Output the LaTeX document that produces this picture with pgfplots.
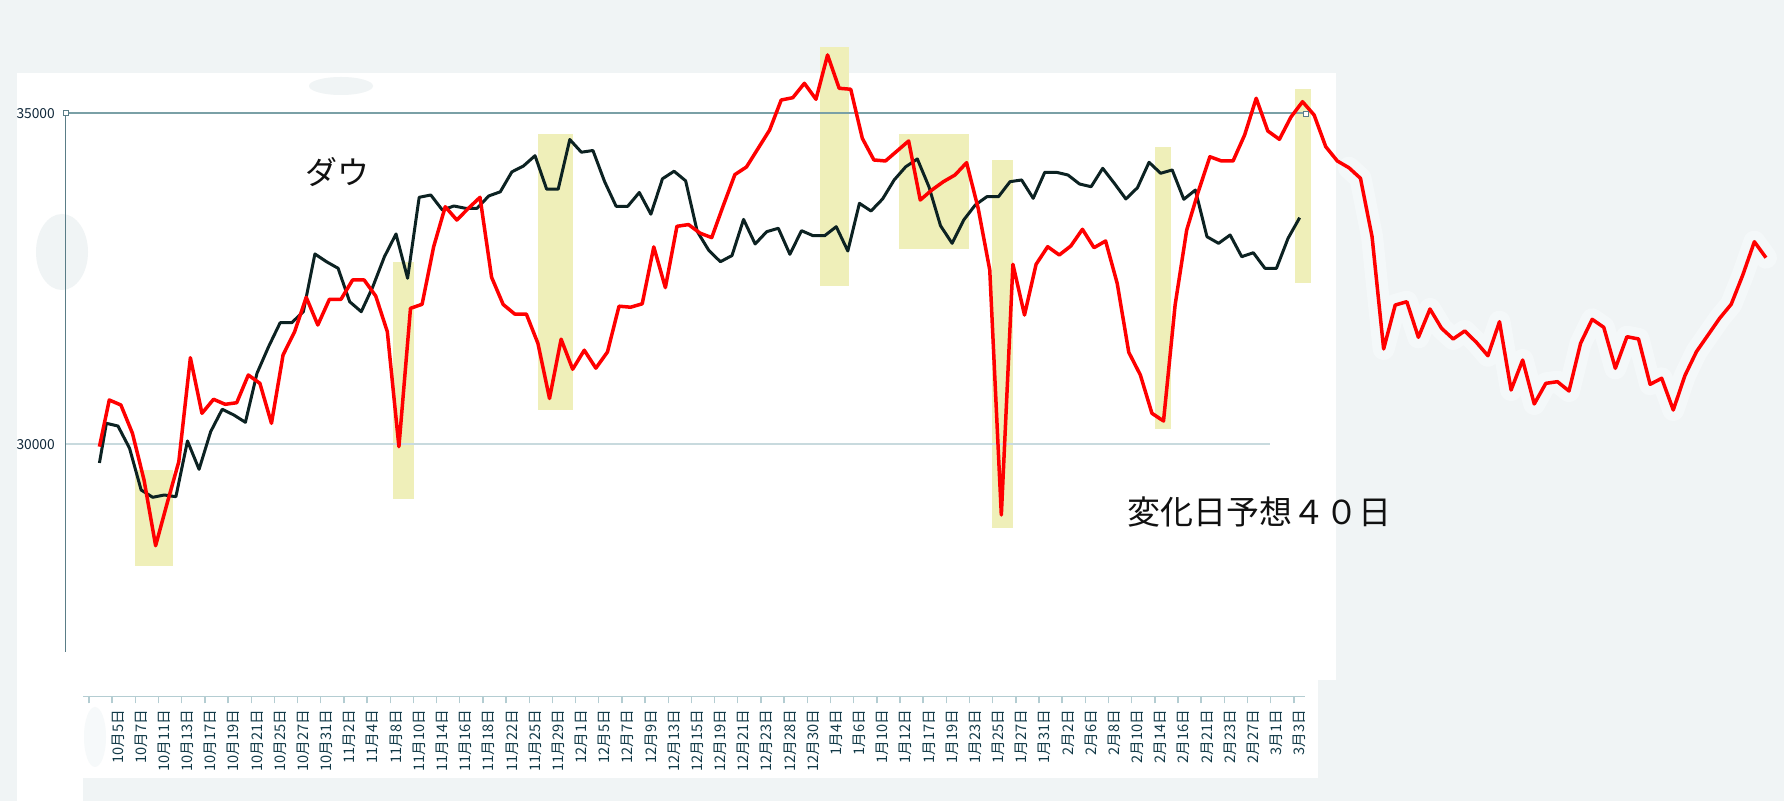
\documentclass[border=0pt]{standalone}
\usepackage{pgfplots}
\pgfplotsset{compat=1.18}
\usepackage{pgfplotstable}
\usepackage{fontspec}
\setmainfont{Noto Sans CJK JP}
\newfontfamily\jp{Noto Sans CJK JP}

\definecolor{bggray}{RGB}{240,244,245}
\definecolor{smudge}{RGB}{246,249,250}
\definecolor{dowcol}{RGB}{12,34,34}
\definecolor{predred}{RGB}{255,0,0}
\definecolor{hl}{RGB}{239,239,185}
\definecolor{gridA}{RGB}{122,160,166}
\definecolor{gridB}{RGB}{200,218,222}
\definecolor{xaxcol}{RGB}{180,205,210}
\definecolor{yaxcol}{RGB}{90,125,135}
\definecolor{labcol}{RGB}{18,58,72}
\definecolor{ylabcol}{RGB}{16,40,58}

\pgfplotstableread{
i v
0.4 29718
1 30317
2 30276
3 29940
4 29310
5 29199
6 29234
7 29208
8 30050
9 29622
10 30190
11 30529
12 30443
13 30332
14 31073
15 31474
16 31837
17 31837
18 32003
19 32875
20 32758
21 32659
22 32154
23 32003
24 32381
25 32834
26 33177
27 32508
28 33731
29 33766
30 33539
31 33600
32 33565
33 33565
34 33751
35 33814
36 34115
37 34204
38 34360
39 33855
40 33855
41 34604
42 34412
43 34438
44 33970
45 33595
46 33595
47 33804
48 33476
49 34011
50 34125
51 33980
52 33216
53 32929
54 32758
55 32851
56 33397
57 33026
58 33212
59 33263
60 32870
61 33227
62 33151
63 33151
64 33287
65 32920
66 33640
67 33524
68 33706
69 33993
70 34193
71 34310
72 33891
73 33302
74 33036
75 33388
76 33615
77 33740
78 33740
79 33967
80 33993
81 33716
82 34109
83 34109
84 34068
85 33932
86 33891
87 34169
88 33943
89 33706
90 33876
91 34260
92 34094
93 34144
94 33701
95 33841
96 33136
97 33036
98 33162
99 32834
100 32894
101 32659
102 32659
103 33112
104 33423
}\dowtable

\pgfplotstableread{
x v
0.4 29964
1.25 30669
2.25 30594
3.25 30166
4.25 29461
5.25 28468
6.25 29113
7.25 29737
8.25 31308
9.25 30468
10.25 30680
11.25 30604
12.25 30628
13.25 31047
14.25 30921
15.25 30317
16.25 31349
17.25 31701
18.25 32221
19.25 31802
20.25 32190
21.25 32190
22.25 32482
23.25 32482
24.25 32240
25.25 31701
26.25 29964
27.25 32054
28.25 32115
29.25 32985
30.25 33589
31.25 33388
32.25 33565
33.25 33731
34.25 32523
35.25 32112
36.25 31967
37.25 31967
38.25 31524
39.25 30692
40.25 31588
41.25 31134
42.25 31421
43.25 31150
44.25 31394
45.25 32086
46.25 32071
47.25 32122
48.25 32982
49.25 32367
50.25 33293
51.25 33319
52.25 33189
53.25 33122
54.25 33606
55.25 34074
56.25 34189
57.25 34468
58.25 34748
59.25 35201
60.25 35236
61.25 35453
62.25 35212
63.25 35881
64.25 35378
65.25 35363
66.25 34622
67.25 34295
68.25 34280
69.25 34431
70.25 34582
71.25 33690
72.25 33841
73.25 33967
74.25 34068
75.25 34254
76.25 33565
77.25 32633
78.25 28932
79.25 32719
80.25 31953
81.25 32719
82.25 32985
83.25 32860
84.25 32996
85.25 33248
86.25 32970
87.25 33071
88.25 32432
89.25 31390
90.25 31047
91.25 30468
92.25 30352
93.25 32104
94.25 33237
95.25 33816
96.25 34344
97.25 34280
98.25 34280
99.25 34672
100.25 35227
101.25 34733
102.25 34607
103.25 34944
104.25 35175
105.25 34974
106.25 34496
107.25 34280
108.25 34178
109.25 34018
110.25 33136
111.25 31440
112.25 32104
113.25 32154
114.25 31616
115.25 32044
116.25 31752
117.25 31591
118.25 31712
119.25 31541
120.25 31338
121.25 31852
122.25 30820
123.25 31273
124.25 30609
125.25 30921
126.25 30946
127.25 30805
128.25 31526
129.25 31888
130.25 31767
131.25 31148
132.25 31625
133.25 31591
134.25 30906
135.25 30997
136.25 30518
137.25 31036
138.25 31399
139.25 31651
140.25 31903
141.25 32115
142.25 32557
143.25 33060
144.25 32819
}\predtable

\begin{document}
\begin{tikzpicture}
\begin{scope}[x=0.5pt,y=-0.5pt]
  \fill[bggray] (0,0) rectangle (1784,801);
  \fill[white] (17,72.7) rectangle (1336,680);
  \fill[white] (17,680) rectangle (83,801);
  \fill[white] (83,680) rectangle (1318,778);
  \fill[bggray] (341,86) ellipse (16pt and 4.5pt);
  \fill[bggray] (62,252) ellipse (13pt and 19pt);
  \fill[smudge] (95,737) ellipse (5.5pt and 15pt);
\end{scope}

\begin{axis}[
  at={(32.85pt,-348.35pt)}, anchor=south west,
  scale only axis, width=635.15pt, height=291.7pt,
  xmin=-2.5119, xmax=107.138, ymin=26187.2, ymax=35000,
  clip=false,
  axis lines=left,
  axis line style={draw=none},
  scaled y ticks=false,
  scaled x ticks=false,
  tick align=outside,
  major tick length=0pt,
  tick style={color=xaxcol, line width=0.7pt},
  xtick={2,4,...,104},
  xticklabels={10月5日,10月7日,10月11日,10月13日,10月17日,10月19日,10月21日,10月25日,10月27日,10月31日,11月2日,11月4日,11月8日,11月10日,11月14日,11月16日,11月18日,11月22日,11月25日,11月29日,12月1日,12月5日,12月7日,12月9日,12月13日,12月15日,12月19日,12月21日,12月23日,12月28日,12月30日,1月4日,1月6日,1月10日,1月12日,1月17日,1月19日,1月23日,1月25日,1月27日,1月31日,2月2日,2月6日,2月8日,2月10日,2月14日,2月16日,2月21日,2月23日,2月27日,3月1日,3月3日},
  extra x ticks={-0.5,1.5,...,103.5},
  extra x tick labels={},
  extra x tick style={major tick length=3.35pt},
  xticklabel style={rotate=90, anchor=east, inner sep=0pt, font=\jp\fontsize{7.3pt}{8pt}\selectfont, text=labcol},
  xticklabel shift=6.4pt,
  ytick={30000,35000},
  yticklabels={30000,35000},
  yticklabel style={anchor=east, inner sep=0pt, font=\jp\fontsize{6.9pt}{8pt}\selectfont, text=ylabcol},
  yticklabel shift=5.25pt,
]
  % light smudge round the forecast line outside the white panel
  \addplot[draw=smudge, line width=11pt, line join=round, line cap=round, opacity=0.8, mark=none,
           restrict x to domain=107.6:145] table[x=x,y=v] {\predtable};
  % highlight bands
  \fill[hl] (axis cs:3.47,29612) rectangle (axis cs:6.75,28166);
  \fill[hl] (axis cs:25.77,32758) rectangle (axis cs:27.55,29174);
  \fill[hl] (axis cs:38.28,34687) rectangle (axis cs:41.25,30511);
  \fill[hl] (axis cs:62.6,36006) rectangle (axis cs:65.1,32396);
  \fill[hl] (axis cs:69.42,34687) rectangle (axis cs:75.46,32955);
  \fill[hl] (axis cs:77.45,34295) rectangle (axis cs:79.24,28740);
  \fill[hl] (axis cs:91.51,34486) rectangle (axis cs:92.9,30227);
  \fill[hl] (axis cs:103.6,35367) rectangle (axis cs:105.0,32441);
  % grid and axis lines
  \draw[gridB, line width=1pt] (axis cs:-2.512,30000) -- (axis cs:101.45,30000);
  \draw[gridA, line width=1pt] (axis cs:-2.512,35000) -- (axis cs:104.45,35000);
  \draw[yaxcol, line width=0.7pt] (axis cs:-2.512,35000) -- (axis cs:-2.512,26862.5);
  \draw[xaxcol, line width=0.75pt] (axis cs:-0.99,26187.2) -- (axis cs:104.45,26187.2);
  % series
  \addplot[draw=dowcol, line width=1.5pt, line join=round, mark=none] table[x=i,y=v] {\dowtable};
  \addplot[draw=predred, line width=1.75pt, line join=round, mark=none] table[x=x,y=v] {\predtable};
\end{axis}

\begin{scope}[x=0.5pt,y=-0.5pt]
  \draw[yaxcol, fill=white, line width=0.5pt] (63,110.6) rectangle (68.4,116);
  \draw[yaxcol, fill=white, line width=0.5pt] (1303,111.3) rectangle (1308.4,116.7);
  \node[anchor=west, inner sep=0pt, font=\jp\fontsize{16pt}{18pt}\selectfont, text={rgb,255:red,17;green,17;blue,17}] at (305,172) {ダウ};
  \node[anchor=west, inner sep=0pt, font=\jp\fontsize{16.5pt}{18pt}\selectfont, text={rgb,255:red,17;green,17;blue,17}] at (1127,511.7) {変化日予想４０日};
  \pgfresetboundingbox
  \path[use as bounding box] (0,0) rectangle (1784,801);
\end{scope}
\end{tikzpicture}
\end{document}
